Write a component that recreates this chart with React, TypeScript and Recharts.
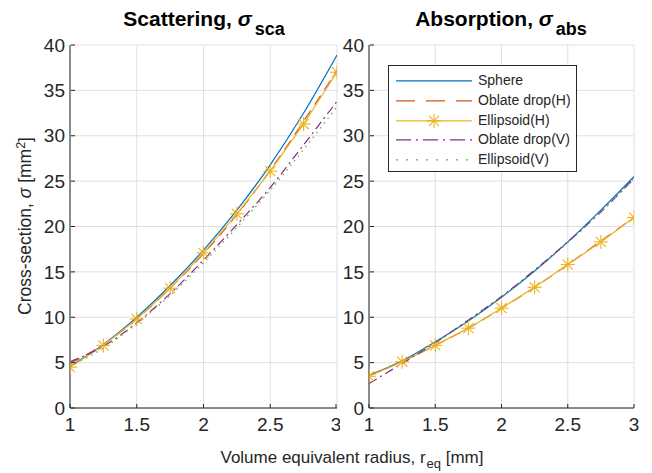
import { LineChart, Line, XAxis, YAxis, CartesianGrid, Legend } from 'recharts';

const radius = [1, 1.25, 1.5, 1.75, 2, 2.25, 2.5, 2.75, 3];

// scattering cross-section [mm^2]
const scaSphere = [4.6, 7.0, 10.0, 13.5, 17.4, 21.8, 26.8, 32.5, 38.9];
const scaOblateH = [4.9, 7.0, 9.8, 13.2, 17.0, 21.3, 26.2, 31.6, 37.2];
const scaEllipsoidH = [4.5, 6.9, 9.8, 13.2, 17.1, 21.4, 26.1, 31.3, 37.0];
const scaOblateV = [5.1, 6.8, 9.4, 12.6, 16.3, 20.2, 24.3, 29.0, 33.8];
const scaEllipsoidV = [4.6, 6.6, 9.3, 12.4, 16.0, 19.9, 24.0, 28.5, 33.2];

// absorption cross-section [mm^2]
const absSphere = [3.6, 5.2, 7.3, 9.6, 12.2, 15.1, 18.3, 21.8, 25.5];
const absOblateH = [3.6, 5.1, 6.9, 8.8, 11.0, 13.3, 15.8, 18.4, 21.0];
const absEllipsoidH = [3.5, 5.1, 6.9, 8.8, 11.0, 13.3, 15.8, 18.3, 21.0];
const absOblateV = [2.7, 4.9, 7.2, 9.7, 12.3, 15.2, 18.3, 21.6, 25.3];
const absEllipsoidV = [3.5, 5.2, 7.2, 9.6, 12.2, 15.1, 18.2, 21.6, 25.3];

const xTicks = [1, 1.5, 2, 2.5, 3];
const yTicks = [0, 5, 10, 15, 20, 25, 30, 35, 40];

const seriesNames = ['Sphere', 'Oblate drop(H)', 'Ellipsoid(H)', 'Oblate drop(V)', 'Ellipsoid(V)'];

const FONT = '"Liberation Sans", Arial, Helvetica, sans-serif';
const AXIS = '#262626';
const GRID = '#e0e0e0';

const COLORS = {
  sphere: '#0072BD',
  oblateH: '#D95319',
  ellipsoidH: '#EDB120',
  oblateV: '#7E2F8E',
  ellipsoidV: '#77AC30',
};

const buildRows = (a: number[], b: number[], c: number[], d: number[], e: number[]) =>
  radius.map((x, i) => ({
    x,
    sphere: a[i],
    oblateH: b[i],
    ellipsoidH: c[i],
    oblateV: d[i],
    ellipsoidV: e[i],
  }));

const scaData = buildRows(scaSphere, scaOblateH, scaEllipsoidH, scaOblateV, scaEllipsoidV);
const absData = buildRows(absSphere, absOblateH, absEllipsoidH, absOblateV, absEllipsoidV);

const Star = (props: any) => {
  const { cx, cy } = props;
  if (cx == null || cy == null) return null;
  const r = 7;
  const d = r * 0.72;
  return (
    <g key={`star-${cx}-${cy}`} stroke={COLORS.ellipsoidH} strokeWidth={1.1}>
      <line x1={cx - r} y1={cy} x2={cx + r} y2={cy} />
      <line x1={cx} y1={cy - r} x2={cx} y2={cy + r} />
      <line x1={cx - d} y1={cy - d} x2={cx + d} y2={cy + d} />
      <line x1={cx - d} y1={cy + d} x2={cx + d} y2={cy - d} />
    </g>
  );
};

const YTick = (props: any) => {
  const { x, y, payload } = props;
  return (
    <g>
      <line x1={x + 6} x2={x + 10} y1={y} y2={y} stroke={AXIS} strokeWidth={1} />
      <text x={x} y={y} dy="0.355em" textAnchor="end" fill={AXIS} fontSize={19} fontFamily={FONT}>
        {payload.value}
      </text>
    </g>
  );
};

const XTick = (props: any) => {
  const { x, y, payload } = props;
  return (
    <g>
      <line x1={x} x2={x} y1={y - 10} y2={y - 14} stroke={AXIS} strokeWidth={1} />
      <text x={x} y={y} dy="0.71em" textAnchor="middle" fill={AXIS} fontSize={19} fontFamily={FONT}>
        {payload.value}
      </text>
    </g>
  );
};

const legendItems = [
  { name: seriesNames[0], color: COLORS.sphere, dash: undefined, star: false },
  { name: seriesNames[1], color: COLORS.oblateH, dash: '19 11', star: false },
  { name: seriesNames[2], color: COLORS.ellipsoidH, dash: undefined, star: true },
  { name: seriesNames[3], color: COLORS.oblateV, dash: '15 5 2 5', star: false },
  { name: seriesNames[4], color: COLORS.ellipsoidV, dash: '2 8', star: false },
];

const LegendBox = () => (
  <div
    style={{
      width: 187,
      height: 100,
      border: `1px solid ${AXIS}`,
      background: '#fff',
      fontFamily: FONT,
      fontSize: 14,
      color: AXIS,
      paddingTop: 5,
      boxSizing: 'content-box',
    }}
  >
    {legendItems.map((it) => (
      <div key={it.name} style={{ display: 'flex', alignItems: 'center', height: 19.8 }}>
        <svg width={89} height={19.8} style={{ flex: 'none' }}>
          <line x1={7} x2={83} y1={9.9} y2={9.9} stroke={it.color} strokeWidth={1.3} strokeDasharray={it.dash} />
          {it.star && <Star cx={45} cy={9.9} />}
        </svg>
        <span style={{ lineHeight: '19.8px' }}>{it.name}</span>
      </div>
    ))}
  </div>
);

const Panel = ({ data, withLegend, marginLeft, marginRight, width }: any) => (
  <LineChart
    width={width}
    height={473}
    data={data}
    margin={{ top: 45, right: marginRight, bottom: 35, left: marginLeft }}
  >
    <CartesianGrid stroke={GRID} strokeWidth={1} />
    <XAxis
      dataKey="x"
      type="number"
      domain={[1, 3]}
      ticks={xTicks}
      allowDataOverflow
      height={30}
      tickSize={0}
      tickMargin={10}
      tick={<XTick />}
      axisLine={{ stroke: AXIS, strokeWidth: 1 }}
      tickLine={false}
    />
    <YAxis
      type="number"
      domain={[0, 40]}
      ticks={yTicks}
      width={30}
      tickSize={0}
      tickMargin={5}
      tick={<YTick />}
      axisLine={{ stroke: AXIS, strokeWidth: 1 }}
      tickLine={false}
    />
    {withLegend && (
      <Legend
        layout="vertical"
        align="center"
        verticalAlign="middle"
        content={() => <LegendBox />}
        wrapperStyle={{ left: 58, top: 65, width: 189, height: 107 }}
      />
    )}
    <Line type="monotone" dataKey="sphere" name={seriesNames[0]} stroke={COLORS.sphere} strokeWidth={1.2} dot={false} isAnimationActive={false} />
    <Line type="monotone" dataKey="oblateH" name={seriesNames[1]} stroke={COLORS.oblateH} strokeWidth={1.2} strokeDasharray="11 7" dot={false} isAnimationActive={false} />
    <Line type="linear" dataKey="ellipsoidH" name={seriesNames[2]} stroke={COLORS.ellipsoidH} strokeWidth={1.2} dot={Star} activeDot={false} isAnimationActive={false} />
    <Line type="monotone" dataKey="oblateV" name={seriesNames[3]} stroke={COLORS.oblateV} strokeWidth={1.2} strokeDasharray="9 4 2 4" dot={false} isAnimationActive={false} />
    <Line type="monotone" dataKey="ellipsoidV" name={seriesNames[4]} stroke={COLORS.ellipsoidV} strokeWidth={1.3} strokeDasharray="1.5 4.5" dot={false} isAnimationActive={false} />
  </LineChart>
);

const titleStyle: any = {
  position: 'absolute',
  top: 8,
  width: 300,
  textAlign: 'center',
  fontFamily: FONT,
  fontWeight: 'bold',
  fontSize: 21,
  lineHeight: '21px',
  color: '#000',
  whiteSpace: 'nowrap',
};

const Title = ({ text, sub, center }: any) => (
  <div style={{ ...titleStyle, left: center - 150 }}>
    {text}, <span style={{ fontStyle: 'italic' }}>σ</span>
    <span style={{ fontSize: 18, position: 'relative', top: 9, marginLeft: 3 }}>{sub}</span>
  </div>
);

export default function App() {
  return (
    <div style={{ position: 'absolute', left: 0, top: 0, width: 652, height: 473, background: '#fff', overflow: 'hidden' }}>
      <div style={{ position: 'absolute', left: 0, top: 0 }}>
        <Panel data={scaData} width={340} marginLeft={40} marginRight={3} withLegend={false} />
      </div>
      <div style={{ position: 'absolute', left: 330, top: 0 }}>
        <Panel data={absData} width={322} marginLeft={9} marginRight={18} withLegend />
      </div>
      <Title text="Scattering" sub="sca" center={204} />
      <Title text="Absorption" sub="abs" center={501} />
      <div
        style={{
          position: 'absolute',
          left: 25,
          top: 226,
          transform: 'translate(-50%, -50%) rotate(-90deg)',
          fontFamily: FONT,
          fontSize: 17.5,
          color: AXIS,
          whiteSpace: 'nowrap',
        }}
      >
        Cross-section, <span style={{ fontStyle: 'italic' }}>σ</span> [mm<sup style={{ fontSize: 12.5 }}>2</sup>]
      </div>
      <div
        style={{
          position: 'absolute',
          left: 352,
          top: 449,
          transform: 'translateX(-50%)',
          fontFamily: FONT,
          fontSize: 17,
          lineHeight: '17px',
          color: AXIS,
          whiteSpace: 'nowrap',
        }}
      >
        Volume equivalent radius, r<span style={{ fontSize: 13, position: 'relative', top: 5, marginLeft: 1 }}>eq</span> [mm]
      </div>
    </div>
  );
}
